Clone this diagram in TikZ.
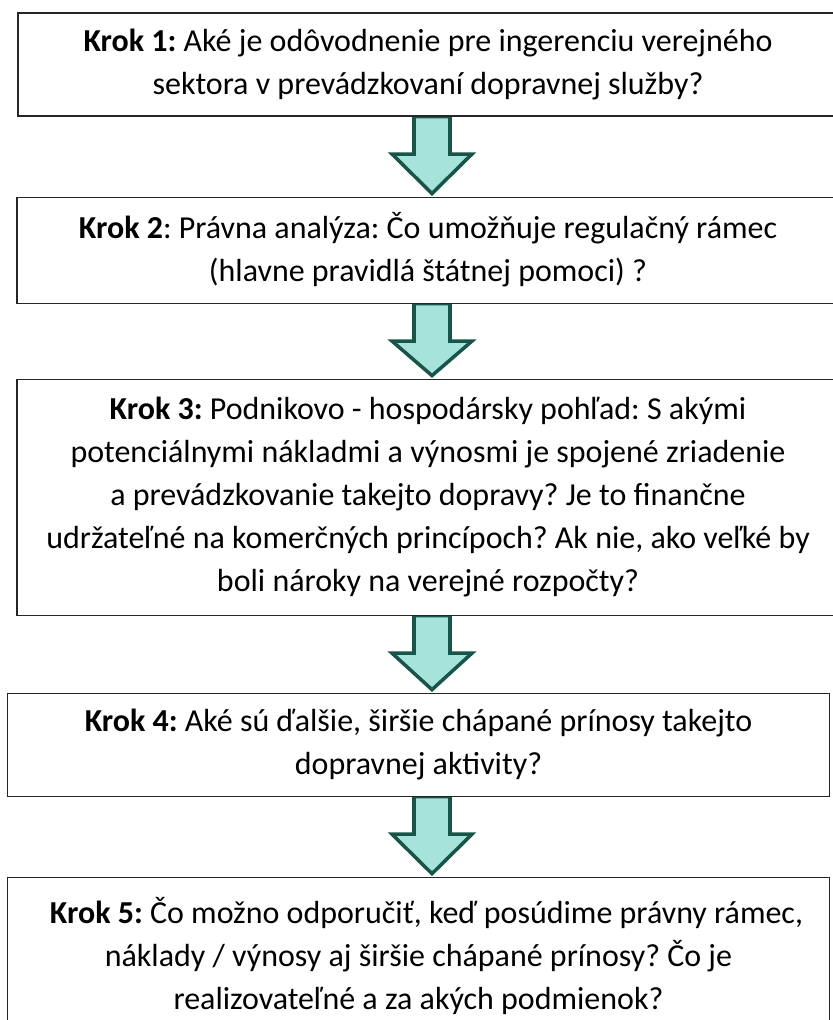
\documentclass[tikz,border=0pt]{standalone}
\usepackage{fontspec}
\setmainfont{Carlito}
\frenchspacing
\usetikzlibrary{positioning, calc, backgrounds}
\definecolor{arrowfill}{RGB}{166,228,219}
\definecolor{arrowline}{RGB}{24,84,74}
\tikzset{
    base/.style = {
        draw=black!85, line width=0.6pt, fill=white, align=center,
        font=\fontsize{18.2}{24.5}\selectfont
    },
    % Steps
    stepbox/.style = {base, rectangle, inner sep=0pt, minimum width=16.44cm},
    % Block arrows between the steps
    blockarrow/.style = {draw=arrowline, fill=arrowfill, line width=2pt, line join=miter}
}

\begin{document}
\begin{tikzpicture}
    \path[use as bounding box, clip] (0,0) rectangle (16.66,-20.4);
    \coordinate (axis) at (8.64,0);

    \node (k1) [stepbox, minimum width=16.4cm, minimum height=2.06cm] at (8.56,-1.29)
        {\textbf{Krok 1:} Aké je odôvodnenie pre ingerenciu verejného\\sektora v prevádzkovaní dopravnej služby?};
    \node (k2) [stepbox, minimum height=2.12cm, below=1.6cm of k1]
        {\textbf{Krok 2}: Právna analýza: Čo umožňuje regulačný rámec\\(hlavne pravidlá štátnej pomoci) ?};
    \node (k3) [stepbox, minimum height=4.72cm, below=1.5cm of k2]
        {\textbf{Krok 3:} Podnikovo - hospodársky pohľad: S akými\\potenciálnymi nákladmi a výnosmi je spojené zriadenie\\a prevádzkovanie takejto dopravy? Je to finančne\\udržateľné na komerčných princípoch? Ak nie, ako veľké by\\boli nároky na verejné rozpočty?};
    \node (k4) [stepbox, minimum height=2.06cm, below=1.54cm of k3, xshift=-0.19cm]
        {\textbf{Krok 4:} Aké sú ďalšie, širšie chápané prínosy takejto\\dopravnej aktivity?};
    \node (k5) [stepbox, minimum height=3.14cm, below=1.6cm of k4]
        {\hspace*{0.32cm}\textbf{Krok 5:} Čo možno odporučiť, keď posúdime právny rámec,\\náklady / výnosy aj širšie chápané prínosy? Čo je\\realizovateľné a za akých podmienok?};

    % Arrows from step to step
    \begin{scope}[on background layer]
        \foreach \a/\b in {k1/k2, k2/k3, k3/k4, k4/k5} {
            \coordinate (s) at (axis |- \a.south);
            \coordinate (t) at ($(axis |- \b.north)+(0,0.06)$);
            \draw[blockarrow] ($(s)+(-0.36,0)$) -- ($(s)+(-0.36,-0.75)$) -- ($(s)+(-0.8,-0.75)$)
                -- (t) -- ($(s)+(0.8,-0.75)$) -- ($(s)+(0.36,-0.75)$) -- ($(s)+(0.36,0)$) -- cycle;
        }
    \end{scope}
\end{tikzpicture}
\end{document}
